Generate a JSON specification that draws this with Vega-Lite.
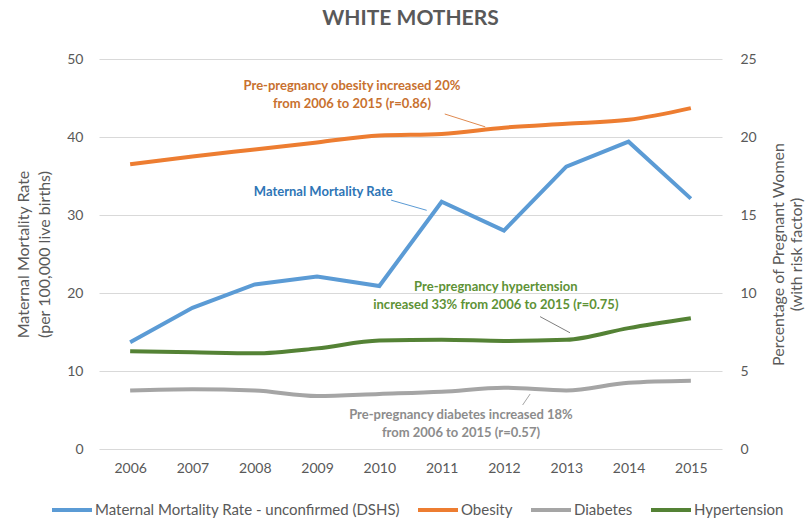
{
  "$schema": "https://vega.github.io/schema/vega-lite/v6.json",
  "width": 623,
  "height": 390,
  "autosize": "none",
  "padding": {"left": 99, "top": 59, "right": 85, "bottom": 72},
  "background": "white",
  "title": {"text": "WHITE MOTHERS", "fontSize": 21, "fontWeight": "bold", "color": "#595959", "font": "Lato", "offset": 23},
  "datasets": {
    "series": [
      {"year": 2006, "series": "Maternal Mortality Rate - unconfirmed (DSHS)", "value": 13.7},
      {"year": 2007, "series": "Maternal Mortality Rate - unconfirmed (DSHS)", "value": 18.1},
      {"year": 2008, "series": "Maternal Mortality Rate - unconfirmed (DSHS)", "value": 21.1},
      {"year": 2009, "series": "Maternal Mortality Rate - unconfirmed (DSHS)", "value": 22.1},
      {"year": 2010, "series": "Maternal Mortality Rate - unconfirmed (DSHS)", "value": 20.9},
      {"year": 2011, "series": "Maternal Mortality Rate - unconfirmed (DSHS)", "value": 31.7},
      {"year": 2012, "series": "Maternal Mortality Rate - unconfirmed (DSHS)", "value": 28.0},
      {"year": 2013, "series": "Maternal Mortality Rate - unconfirmed (DSHS)", "value": 36.2},
      {"year": 2014, "series": "Maternal Mortality Rate - unconfirmed (DSHS)", "value": 39.4},
      {"year": 2015, "series": "Maternal Mortality Rate - unconfirmed (DSHS)", "value": 32.1},
      {"year": 2006, "series": "Obesity", "value": 18.25},
      {"year": 2007, "series": "Obesity", "value": 18.75},
      {"year": 2008, "series": "Obesity", "value": 19.2},
      {"year": 2009, "series": "Obesity", "value": 19.65},
      {"year": 2010, "series": "Obesity", "value": 20.1},
      {"year": 2011, "series": "Obesity", "value": 20.2},
      {"year": 2012, "series": "Obesity", "value": 20.6},
      {"year": 2013, "series": "Obesity", "value": 20.85},
      {"year": 2014, "series": "Obesity", "value": 21.1},
      {"year": 2015, "series": "Obesity", "value": 21.85},
      {"year": 2006, "series": "Diabetes", "value": 3.75},
      {"year": 2007, "series": "Diabetes", "value": 3.83},
      {"year": 2008, "series": "Diabetes", "value": 3.75},
      {"year": 2009, "series": "Diabetes", "value": 3.4},
      {"year": 2010, "series": "Diabetes", "value": 3.53},
      {"year": 2011, "series": "Diabetes", "value": 3.67},
      {"year": 2012, "series": "Diabetes", "value": 3.93},
      {"year": 2013, "series": "Diabetes", "value": 3.75},
      {"year": 2014, "series": "Diabetes", "value": 4.25},
      {"year": 2015, "series": "Diabetes", "value": 4.38},
      {"year": 2006, "series": "Hypertension", "value": 6.27},
      {"year": 2007, "series": "Hypertension", "value": 6.2},
      {"year": 2008, "series": "Hypertension", "value": 6.13},
      {"year": 2009, "series": "Hypertension", "value": 6.45},
      {"year": 2010, "series": "Hypertension", "value": 6.95},
      {"year": 2011, "series": "Hypertension", "value": 7.0},
      {"year": 2012, "series": "Hypertension", "value": 6.93},
      {"year": 2013, "series": "Hypertension", "value": 7.0},
      {"year": 2014, "series": "Hypertension", "value": 7.75},
      {"year": 2015, "series": "Hypertension", "value": 8.38}
    ],
    "notes": [
      {"group": "obesity", "year": 2009.56, "value": 46.5, "label": "Pre-pregnancy obesity increased 20%"},
      {"group": "obesity", "year": 2009.56, "value": 44.2, "label": "from 2006 to 2015 (r=0.86)"},
      {"group": "mmr", "year": 2009.1, "value": 32.9, "label": "Maternal Mortality Rate"},
      {"group": "hypertension", "year": 2011.87, "value": 20.8, "label": "Pre-pregnancy hypertension"},
      {"group": "hypertension", "year": 2011.87, "value": 18.5, "label": "increased 33% from 2006 to 2015 (r=0.75)"},
      {"group": "diabetes", "year": 2011.31, "value": 4.4, "label": "Pre-pregnancy diabetes increased 18%"},
      {"group": "diabetes", "year": 2011.31, "value": 2.1, "label": "from 2006 to 2015 (r=0.57)"}
    ],
    "leaders": [
      {"group": "obesity", "year": 2011.05, "value": 42.95, "year2": 2011.7, "value2": 41.3},
      {"group": "mmr", "year": 2010.19, "value": 31.9, "year2": 2010.76, "value2": 30.6},
      {"group": "hypertension", "year": 2012.58, "value": 16.97, "year2": 2013.06, "value2": 14.9},
      {"group": "diabetes", "year": 2012.42, "value": 7.05, "year2": 2012.3, "value2": 5.64}
    ]
  },
  "layer": [
    {
      "layer": [
        {
          "data": {"name": "series"},
          "transform": [{"filter": "datum.series === 'Maternal Mortality Rate - unconfirmed (DSHS)'"}],
          "mark": {"type": "line", "strokeWidth": 4, "interpolate": "linear"},
          "encoding": {
            "x": {"field": "year", "type": "quantitative", "scale": {"domain": [2005.5, 2015.5], "nice": false, "zero": false},
                  "axis": {"values": [2006, 2007, 2008, 2009, 2010, 2011, 2012, 2013, 2014, 2015], "format": "d", "title": null, "grid": false, "domain": false, "ticks": false, "tickSize": 0, "labelPadding": 12}},
            "y": {"field": "value", "type": "quantitative", "scale": {"domain": [0, 50], "nice": false},
                  "axis": {"orient": "left", "values": [0, 10, 20, 30, 40, 50], "title": ["Maternal Mortality Rate", "(per 100,000 live births)"], "titleLineHeight": 21, "grid": true, "domain": false, "ticks": false, "tickSize": 0, "labelPadding": 16, "titlePadding": 14}},
            "color": {"field": "series", "type": "nominal",
                      "scale": {"domain": ["Maternal Mortality Rate - unconfirmed (DSHS)", "Obesity", "Diabetes", "Hypertension"], "range": ["#5B9BD5", "#ED7D31", "#A5A5A5", "#548235"]},
                      "legend": {"orient": "none", "legendX": -49, "legendY": 429, "direction": "horizontal", "title": null, "symbolType": "stroke", "symbolStrokeWidth": 4, "symbolSize": 1600, "labelFontSize": 15, "labelLimit": 500, "labelColor": "#595959", "labelFont": "Lato", "columnPadding": 10, "labelOffset": 1}}
          }
        },
        {
          "data": {"name": "notes"},
          "mark": {"type": "text", "font": "Lato", "fontWeight": "bold", "fontSize": 13, "align": "center", "baseline": "middle"},
          "encoding": {
            "x": {"field": "year", "type": "quantitative"},
            "y": {"field": "value", "type": "quantitative"},
            "text": {"field": "label"},
            "fill": {"field": "group", "type": "nominal", "legend": null,
                     "scale": {"domain": ["obesity", "mmr", "hypertension", "diabetes"], "range": ["#C8712F", "#2E75B6", "#5E9236", "#8C8C8C"]}}
          }
        },
        {
          "data": {"name": "leaders"},
          "mark": {"type": "rule", "strokeWidth": 1},
          "encoding": {
            "x": {"field": "year", "type": "quantitative"},
            "y": {"field": "value", "type": "quantitative"},
            "x2": {"field": "year2"},
            "y2": {"field": "value2"},
            "stroke": {"field": "group", "type": "nominal", "legend": null,
                       "scale": {"domain": ["obesity", "mmr", "hypertension", "diabetes"], "range": ["#E08A50", "#5B9BD5", "#7F7F7F", "#A5A5A5"]}}
          }
        }
      ]
    },
    {
      "data": {"name": "series"},
      "transform": [{"filter": "datum.series !== 'Maternal Mortality Rate - unconfirmed (DSHS)'"}],
      "mark": {"type": "line", "strokeWidth": 4, "interpolate": "monotone"},
      "encoding": {
        "x": {"field": "year", "type": "quantitative"},
        "y": {"field": "value", "type": "quantitative", "scale": {"domain": [0, 25], "nice": false},
              "axis": {"orient": "right", "values": [0, 5, 10, 15, 20, 25], "title": ["Percentage of Pregnant Women", "(with risk factor)"], "titleAngle": -90, "grid": false, "domain": false, "ticks": false, "tickSize": 0, "labelPadding": 18, "titlePadding": 12}},
        "color": {"field": "series", "type": "nominal",
                  "scale": {"domain": ["Maternal Mortality Rate - unconfirmed (DSHS)", "Obesity", "Diabetes", "Hypertension"], "range": ["#5B9BD5", "#ED7D31", "#A5A5A5", "#548235"]},
                  "legend": {"orient": "none", "legendX": -49, "legendY": 429, "direction": "horizontal", "title": null, "symbolType": "stroke", "symbolStrokeWidth": 4, "symbolSize": 1600, "labelFontSize": 15, "labelLimit": 500, "labelColor": "#595959", "labelFont": "Lato", "columnPadding": 10, "labelOffset": 1}}
      }
    }
  ],
  "resolve": {"scale": {"y": "independent"}},
  "config": {
    "view": {"stroke": null},
    "axis": {"labelFont": "Lato", "labelFontSize": 14, "labelColor": "#595959", "titleFont": "Lato", "titleFontSize": 16, "titleFontWeight": "normal", "titleColor": "#595959", "gridColor": "#D9D9D9", "gridWidth": 1}
  }
}
